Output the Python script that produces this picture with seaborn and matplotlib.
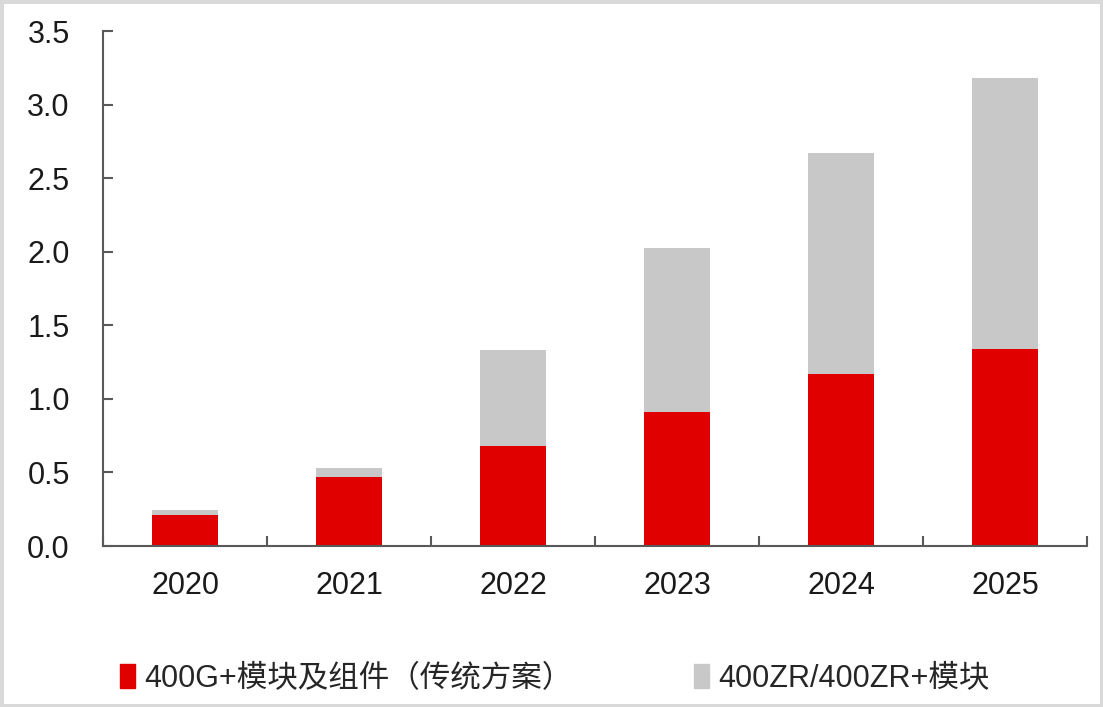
import matplotlib
matplotlib.use("Agg")
import matplotlib.pyplot as plt
import seaborn as sns
import pandas as pd
from matplotlib.patches import Rectangle

years = ["2020", "2021", "2022", "2023", "2024", "2025"]
traditional = [0.21, 0.47, 0.68, 0.91, 1.17, 1.34]
zr_modules = [0.035, 0.06, 0.65, 1.115, 1.50, 1.84]
labels = ["400G+模块及组件（传统方案）", "400ZR/400ZR+模块"]

RED = "#e00000"
GRAY = "#c8c8c8"

sns.set_theme(style="white")
plt.rcParams["font.family"] = ["Liberation Sans", "Noto Sans CJK SC", "DejaVu Sans"]

df = pd.DataFrame({"year": years, "trad": traditional, "zr": zr_modules})
df["total"] = df["trad"] + df["zr"]

fig = plt.figure(figsize=(11.03, 7.07), dpi=100)
ax = fig.add_axes([0.0934, 0.2277, 0.8921, 0.7283])

# gray total first, red part drawn over it
sns.barplot(data=df, x="year", y="total", color=GRAY, width=0.4,
            saturation=1, ax=ax, edgecolor="none")
sns.barplot(data=df, x="year", y="trad", color=RED, width=0.4,
            saturation=1, ax=ax, edgecolor="none")

ax.set_xlim(-0.5, len(years) - 0.5)
ax.set_ylim(0, 3.5)
ax.set_yticks([0, 0.5, 1.0, 1.5, 2.0, 2.5, 3.0, 3.5])
ax.set_yticklabels([f"{v:.1f}" for v in ax.get_yticks()])
ax.set_xlabel("")
ax.set_ylabel("")

# tick marks between categories, labels at the centres
ax.set_xticks([i - 0.5 for i in range(len(years) + 1)])
ax.set_xticklabels([])
ax.set_xticks(range(len(years)), minor=True)
ax.set_xticklabels(years, minor=True)
ax.tick_params(axis="x", which="major", direction="in", length=7, width=1.5,
               color="#595959", bottom=True)
ax.tick_params(axis="x", which="minor", length=0, pad=18, labelsize=22,
               labelcolor="#1a1a1a")
ax.tick_params(axis="y", direction="in", length=7, width=1.5, color="#595959",
               left=True, pad=24, labelsize=22, labelcolor="#1a1a1a")

for side in ["top", "right"]:
    ax.spines[side].set_visible(False)
for side in ["left", "bottom"]:
    ax.spines[side].set_color("#595959")
    ax.spines[side].set_linewidth(1.5)

handles = [Rectangle((0, 0), 1, 1, color=RED), Rectangle((0, 0), 1, 1, color=GRAY)]
fig.legend(handles, labels, loc="lower left", bbox_to_anchor=(0.084, -0.02),
           ncol=2, frameon=False, fontsize=22, handlelength=0.5,
           handleheight=0.82, handletextpad=0.3, columnspacing=3.95)

fig.patches.append(Rectangle((0, 0), 1, 1, transform=fig.transFigure,
                             fill=False, edgecolor="#d9d9d9", linewidth=5))

fig.savefig("out.png", dpi=100, facecolor="white")
